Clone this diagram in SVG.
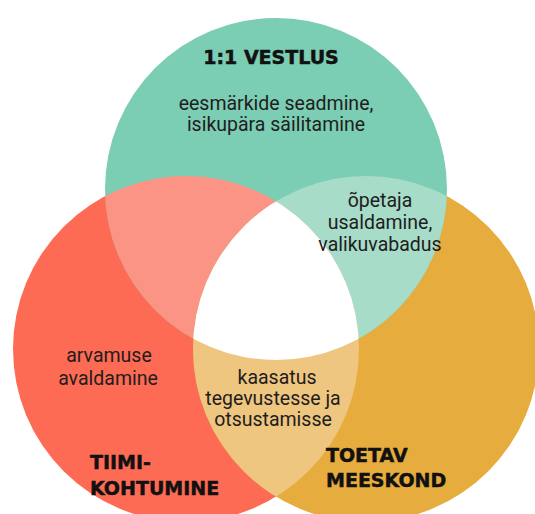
<svg xmlns="http://www.w3.org/2000/svg" width="535" height="514" viewBox="0 0 535 514">
  <style>
    .body { font-family: Roboto, "Liberation Sans", Arial, sans-serif; font-size: 19.5px; fill: #221d1d; text-anchor: middle; }
    .title { font-family: "DejaVu Sans", "Liberation Sans", sans-serif; font-weight: bold; font-size: 19px; fill: #111; stroke: #111; stroke-width: 0.5px; }
  </style>
  <defs>
    <clipPath id="clipTeal"><circle cx="276" cy="189" r="171"/></clipPath>
    <clipPath id="clipRed"><circle cx="186" cy="349" r="173"/></clipPath>
    <clipPath id="clipOrange"><circle cx="366" cy="349" r="173"/></clipPath>
  </defs>
  <rect width="535" height="514" fill="#ffffff"/>

  <!-- base circles -->
  <g id="circles">
    <circle id="circle-red" cx="186" cy="349" r="173" fill="#fd6b54"/>
    <circle id="circle-orange" cx="366" cy="349" r="173" fill="#e6ad3e"/>
    <circle id="circle-teal" cx="276" cy="189" r="171" fill="#7bcdb4"/>
  </g>

  <!-- pairwise and triple overlaps -->
  <g id="overlaps">
    <circle cx="186" cy="349" r="173" fill="#fb9484" clip-path="url(#clipTeal)"/>
    <circle cx="366" cy="349" r="173" fill="#a6dcc8" clip-path="url(#clipTeal)"/>
    <circle cx="366" cy="349" r="173" fill="#efc67f" clip-path="url(#clipRed)"/>
    <g clip-path="url(#clipTeal)">
      <circle cx="186" cy="349" r="173" fill="#ffffff" clip-path="url(#clipOrange)"/>
    </g>
  </g>

  <g id="node-vestlus">
    <text class="title" x="271" y="64" text-anchor="middle">1:1 VESTLUS</text>
    <text class="body" x="276" y="110">eesmärkide seadmine,</text>
    <text class="body" x="276" y="131">isikupära säilitamine</text>
  </g>

  <g id="node-teal-orange">
    <text class="body" x="380" y="207">õpetaja</text>
    <text class="body" x="380" y="229">usaldamine,</text>
    <text class="body" x="380" y="251">valikuvabadus</text>
  </g>

  <g id="node-tiimikohtumine">
    <text class="body" x="109" y="362">arvamuse</text>
    <text class="body" x="108" y="385">avaldamine</text>
    <text class="title" x="90" y="469">TIIMI-</text>
    <text class="title" x="90" y="495">KOHTUMINE</text>
  </g>

  <g id="node-red-orange">
    <text class="body" x="277" y="384">kaasatus</text>
    <text class="body" x="273" y="405">tegevustesse ja</text>
    <text class="body" x="273" y="426">otsustamisse</text>
  </g>

  <g id="node-meeskond">
    <text class="title" x="326" y="462">TOETAV</text>
    <text class="title" x="326" y="487">MEESKOND</text>
  </g>

  <g id="connectors"/>
</svg>
